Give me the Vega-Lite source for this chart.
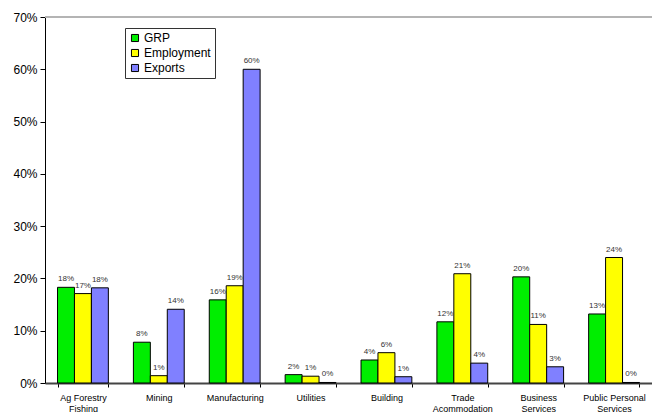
{
  "$schema": "https://vega.github.io/schema/vega-lite/v6.json",
  "width": 607,
  "height": 366,
  "autosize": {"type": "none"},
  "padding": {"left": 45, "top": 17, "right": 0, "bottom": 29},
  "background": "white",
  "config": {
    "font": "Liberation Sans",
    "axis": {"labelFont": "Liberation Sans"},
    "legend": {"labelFont": "Liberation Sans"},
    "text": {"font": "Liberation Sans"},
    "view": {"stroke": null}
  },
  "data": {
    "values": [
      {"sector": "Ag Forestry Fishing", "measure": "GRP", "share": 0.183},
      {"sector": "Ag Forestry Fishing", "measure": "Employment", "share": 0.171},
      {"sector": "Ag Forestry Fishing", "measure": "Exports", "share": 0.182},
      {"sector": "Mining", "measure": "GRP", "share": 0.078},
      {"sector": "Mining", "measure": "Employment", "share": 0.014},
      {"sector": "Mining", "measure": "Exports", "share": 0.141},
      {"sector": "Manufacturing", "measure": "GRP", "share": 0.159},
      {"sector": "Manufacturing", "measure": "Employment", "share": 0.186},
      {"sector": "Manufacturing", "measure": "Exports", "share": 0.6},
      {"sector": "Utilities", "measure": "GRP", "share": 0.016},
      {"sector": "Utilities", "measure": "Employment", "share": 0.013},
      {"sector": "Utilities", "measure": "Exports", "share": 0.001},
      {"sector": "Building", "measure": "GRP", "share": 0.044},
      {"sector": "Building", "measure": "Employment", "share": 0.058},
      {"sector": "Building", "measure": "Exports", "share": 0.012},
      {"sector": "Trade Acommodation", "measure": "GRP", "share": 0.117},
      {"sector": "Trade Acommodation", "measure": "Employment", "share": 0.209},
      {"sector": "Trade Acommodation", "measure": "Exports", "share": 0.038},
      {"sector": "Business Services", "measure": "GRP", "share": 0.203},
      {"sector": "Business Services", "measure": "Employment", "share": 0.112},
      {"sector": "Business Services", "measure": "Exports", "share": 0.031},
      {"sector": "Public Personal Services", "measure": "GRP", "share": 0.132},
      {"sector": "Public Personal Services", "measure": "Employment", "share": 0.24},
      {"sector": "Public Personal Services", "measure": "Exports", "share": 0.001}
    ]
  },
  "encoding": {
    "x": {
      "field": "sector",
      "type": "nominal",
      "sort": null,
      "scale": {"paddingInner": 0.33, "paddingOuter": 0.165},
      "axis": {
        "title": null,
        "labelAngle": 0,
        "labelFont": "Liberation Sans",
        "labelFontSize": 9,
        "labelColor": "#000",
        "labelPadding": 6,
        "labelLimit": 90,
        "labelExpr": "datum.value == 'Ag Forestry Fishing' ? ['Ag Forestry', 'Fishing'] : datum.value == 'Trade Acommodation' ? ['Trade', 'Acommodation'] : datum.value == 'Business Services' ? ['Business', 'Services'] : datum.value == 'Public Personal Services' ? ['Public Personal', 'Services'] : datum.value",
        "labelLineHeight": 11,
        "tickBand": "extent",
        "domainColor": "#444",
        "domainWidth": 2,
        "tickColor": "#000",
        "tickSize": 4,
        "ticks": true
      }
    },
    "xOffset": {
      "field": "measure",
      "type": "nominal",
      "sort": ["GRP", "Employment", "Exports"],
      "scale": {"paddingInner": 0, "paddingOuter": 0}
    },
    "y": {
      "field": "share",
      "type": "quantitative",
      "scale": {"domain": [0, 0.7], "nice": false},
      "axis": {
        "title": null,
        "format": ".0%",
        "values": [0, 0.1, 0.2, 0.3, 0.4, 0.5, 0.6, 0.7],
        "grid": false,
        "labelFont": "Liberation Sans",
        "labelFontSize": 12,
        "labelColor": "#000",
        "labelPadding": 3,
        "domainColor": "#000",
        "tickColor": "#000",
        "tickSize": 5
      }
    }
  },
  "layer": [
    {
      "mark": {"type": "rule", "color": "#b4b4b4", "strokeWidth": 2},
      "encoding": {
        "y": {"datum": 0.7},
        "x": null,
        "xOffset": null
      }
    },
    {
      "mark": {"type": "bar", "stroke": "#000", "strokeWidth": 1},
      "encoding": {
        "color": {
          "field": "measure",
          "type": "nominal",
          "sort": ["GRP", "Employment", "Exports"],
          "scale": {
            "domain": ["GRP", "Employment", "Exports"],
            "range": ["#00ee00", "#ffff00", "#8080ff"]
          },
          "legend": {
            "title": null,
            "orient": "none",
            "legendX": 80,
            "legendY": 11,
            "direction": "vertical",
            "symbolType": "square",
            "symbolSize": 50,
            "symbolStrokeColor": "#000",
            "symbolStrokeWidth": 1,
            "labelFont": "Liberation Sans",
            "labelFontSize": 12,
            "labelColor": "#000",
            "labelOffset": 3,
            "rowPadding": 3,
            "padding": 4,
            "strokeColor": "#333",
            "fillColor": "white"
          }
        }
      }
    },
    {
      "mark": {"type": "text", "baseline": "bottom", "dy": -4, "fontSize": 8, "font": "Liberation Sans", "color": "#333"},
      "encoding": {
        "text": {"field": "share", "type": "quantitative", "format": ".0%"}
      }
    }
  ]
}
